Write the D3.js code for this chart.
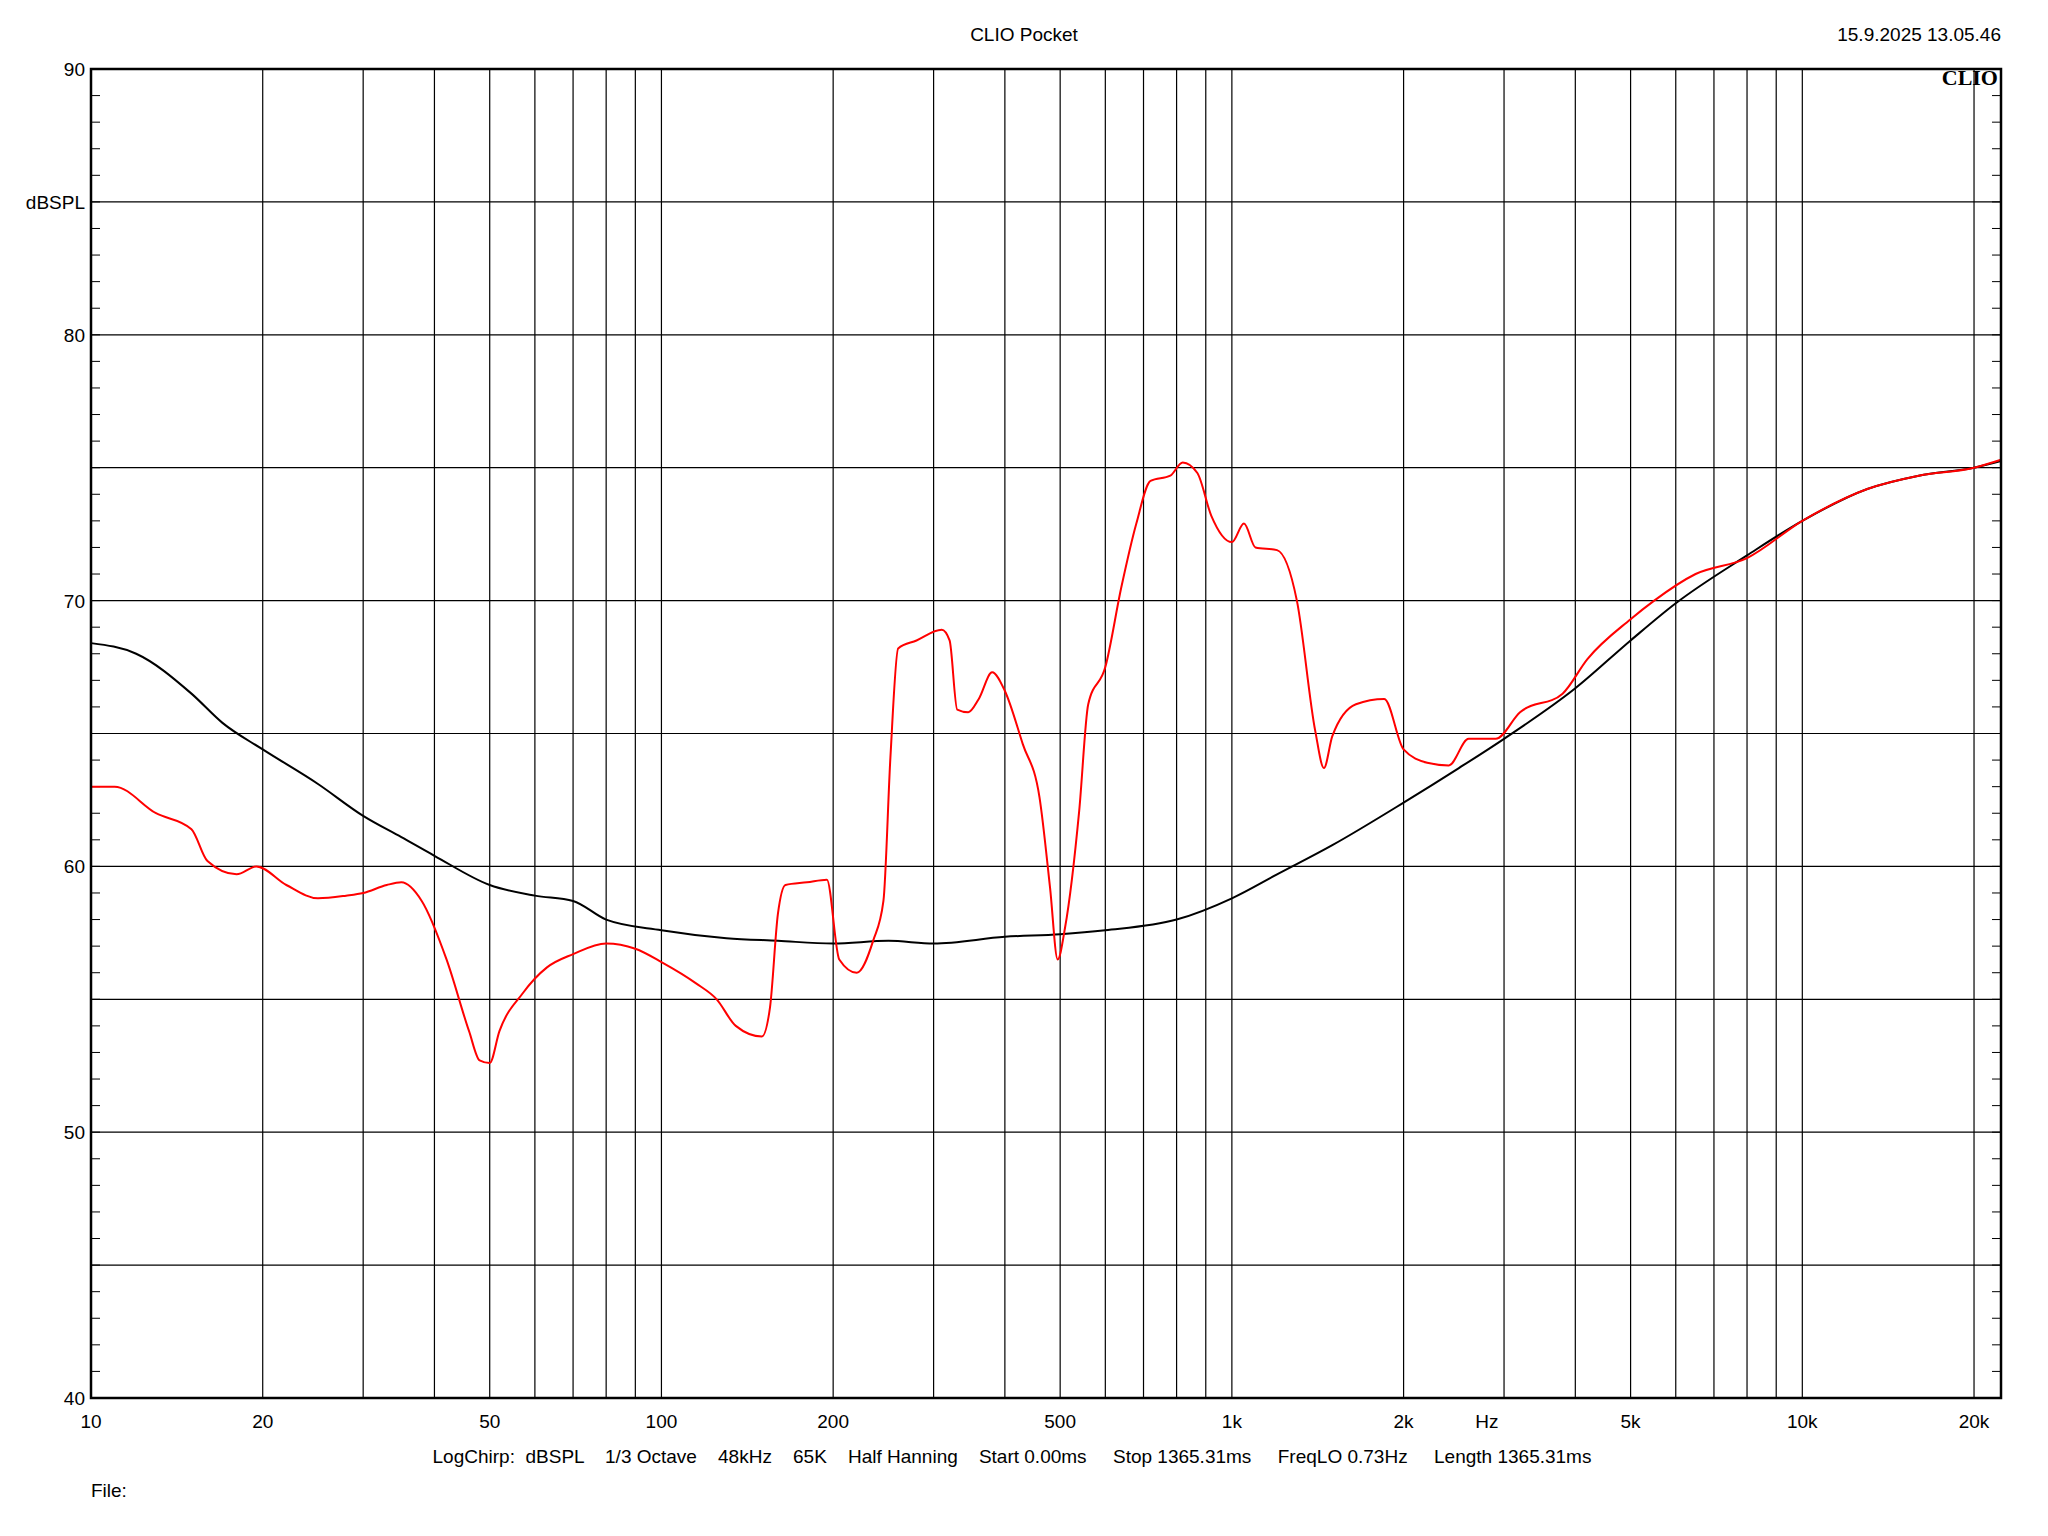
<!DOCTYPE html>
<html><head><meta charset="utf-8">
<script src="https://cdn.jsdelivr.net/npm/d3@7"></script>
<style>body{margin:0;background:#fff}svg{display:block}text{font-family:"Liberation Sans",Arial,sans-serif;fill:#000}</style>
</head><body><svg id="c" width="2048" height="1536"></svg>
<script>
const blackF=[10,12,15,17,20,25,30,35,40,50,60,70,80,100,130,160,200,250,300,400,500,600,800,1000,1200,1500,2000,2500,3000,4000,5000,6000,8000,10000,13000,16000,20000,22300];
const blackDb=[68.4,68.0,66.5,65.4,64.4,63.1,61.9,61.1,60.4,59.3,58.9,58.7,58.0,57.6,57.3,57.2,57.1,57.2,57.1,57.35,57.45,57.6,58.0,58.8,59.7,60.8,62.4,63.7,64.8,66.7,68.5,69.9,71.7,73.0,74.2,74.7,75.0,75.25];
const redF=[10,11,13,15,16,18,19.5,22,25,28,30,33,35,38,42,46,48,50,52,57,63,70,80,90,100,115,125,135,150,155,160,165,180,195,205,220,235,245,252,260,280,310,320,330,345,360,380,400,430,460,480,495,510,540,560,600,640,680,720,780,820,870,920,1000,1050,1100,1200,1300,1400,1450,1500,1650,1850,2000,2200,2400,2600,2900,3200,3800,4200,5000,5500,6500,8000,10000,13000,16000,20000,22300];
const redDb=[63.0,63.0,62.0,61.4,60.2,59.7,60.0,59.3,58.8,58.9,59.0,59.3,59.4,58.7,56.5,53.8,52.7,52.6,53.8,55.2,56.2,56.7,57.1,56.9,56.4,55.6,55.0,54.0,53.6,54.7,58.2,59.3,59.4,59.5,56.5,56.0,57.2,58.7,64.1,68.2,68.5,68.9,68.5,65.9,65.8,66.3,67.3,66.6,64.6,62.6,59.2,56.5,57.7,62.1,66.1,67.5,70.5,72.9,74.5,74.7,75.2,74.8,73.2,72.2,72.9,72.0,71.9,70.0,65.1,63.7,64.9,66.1,66.3,64.4,63.9,63.8,64.8,64.8,65.8,66.5,67.8,69.3,70.0,71.0,71.6,73.0,74.2,74.7,75.0,75.3];
const xGrid=[20,30,40,50,60,70,80,90,100,200,300,400,500,600,700,800,900,1000,2000,3000,4000,5000,6000,7000,8000,9000,10000,20000];
const xLabels=[[10,"10"],[20,"20"],[50,"50"],[100,"100"],[200,"200"],[500,"500"],[1000,"1k"],[2000,"2k"],[2800,"Hz"],[5000,"5k"],[10000,"10k"],[20000,"20k"]];
const yGrid=[45,50,55,60,65,70,75,80,85];
const yLabels=[40,50,60,70,80,90];

const svg=d3.select("#c");
const L=91,R=2001,T=69,B=1398;
const x=d3.scaleLog().domain([10,22300]).range([L,R]);
const y=d3.scaleLinear().domain([40,90]).range([B,T]);
const g=svg.append("g");
g.selectAll(".vg").data(xGrid).join("line").attr("x1",d=>x(d)).attr("x2",d=>x(d)).attr("y1",T).attr("y2",B).attr("stroke","#000").attr("stroke-width",1.2);
g.selectAll(".hg").data(yGrid).join("line").attr("x1",L).attr("x2",R).attr("y1",d=>y(d)).attr("y2",d=>y(d)).attr("stroke","#000").attr("stroke-width",1.2);
const minor=d3.range(41,90);
g.selectAll(".tl").data(minor).join("line").attr("x1",L).attr("x2",L+9).attr("y1",d=>y(d)).attr("y2",d=>y(d)).attr("stroke","#000");
g.selectAll(".tr").data(minor).join("line").attr("x1",R-9).attr("x2",R).attr("y1",d=>y(d)).attr("y2",d=>y(d)).attr("stroke","#000");
const line=d3.line().x(d=>x(d[0])).y(d=>y(d[1])).curve(d3.curveMonotoneX);
g.append("path").datum(blackF.map((f,i)=>[f,blackDb[i]])).attr("d",line).attr("fill","none").attr("stroke","#000").attr("stroke-width",2);
g.append("path").datum(redF.map((f,i)=>[f,redDb[i]])).attr("d",line).attr("fill","none").attr("stroke","#ff0000").attr("stroke-width",2);
g.append("rect").attr("x",L).attr("y",T).attr("width",R-L).attr("height",B-T).attr("fill","none").attr("stroke","#000").attr("stroke-width",2.5);
svg.selectAll(".xl").data(xLabels).join("text").attr("x",d=>x(d[0])).attr("y",1428).attr("text-anchor","middle").attr("font-size",19).text(d=>d[1]);
svg.selectAll(".yl").data(yLabels).join("text").attr("x",L-6).attr("y",d=>y(d)+7).attr("text-anchor","end").attr("font-size",19).text(d=>d);
svg.append("text").attr("x",L-6).attr("y",y(85)+7).attr("text-anchor","end").attr("font-size",19).text("dBSPL");
svg.append("text").attr("x",1024).attr("y",41).attr("text-anchor","middle").attr("font-size",19).text("CLIO Pocket");
svg.append("text").attr("x",2001).attr("y",41).attr("text-anchor","end").attr("font-size",19).text("15.9.2025 13.05.46");
svg.append("text").attr("x",1998).attr("y",85).attr("text-anchor","end").attr("font-size",22).attr("font-weight","bold").style("font-family","Liberation Serif").text("CLIO");
svg.append("text").attr("x",1012).attr("y",1463).attr("text-anchor","middle").attr("font-size",19).style("white-space","pre").text("LogChirp:  dBSPL    1/3 Octave    48kHz    65K    Half Hanning    Start 0.00ms     Stop 1365.31ms     FreqLO 0.73Hz     Length 1365.31ms");
svg.append("text").attr("x",91).attr("y",1497).attr("font-size",19).text("File:");
</script></body></html>
